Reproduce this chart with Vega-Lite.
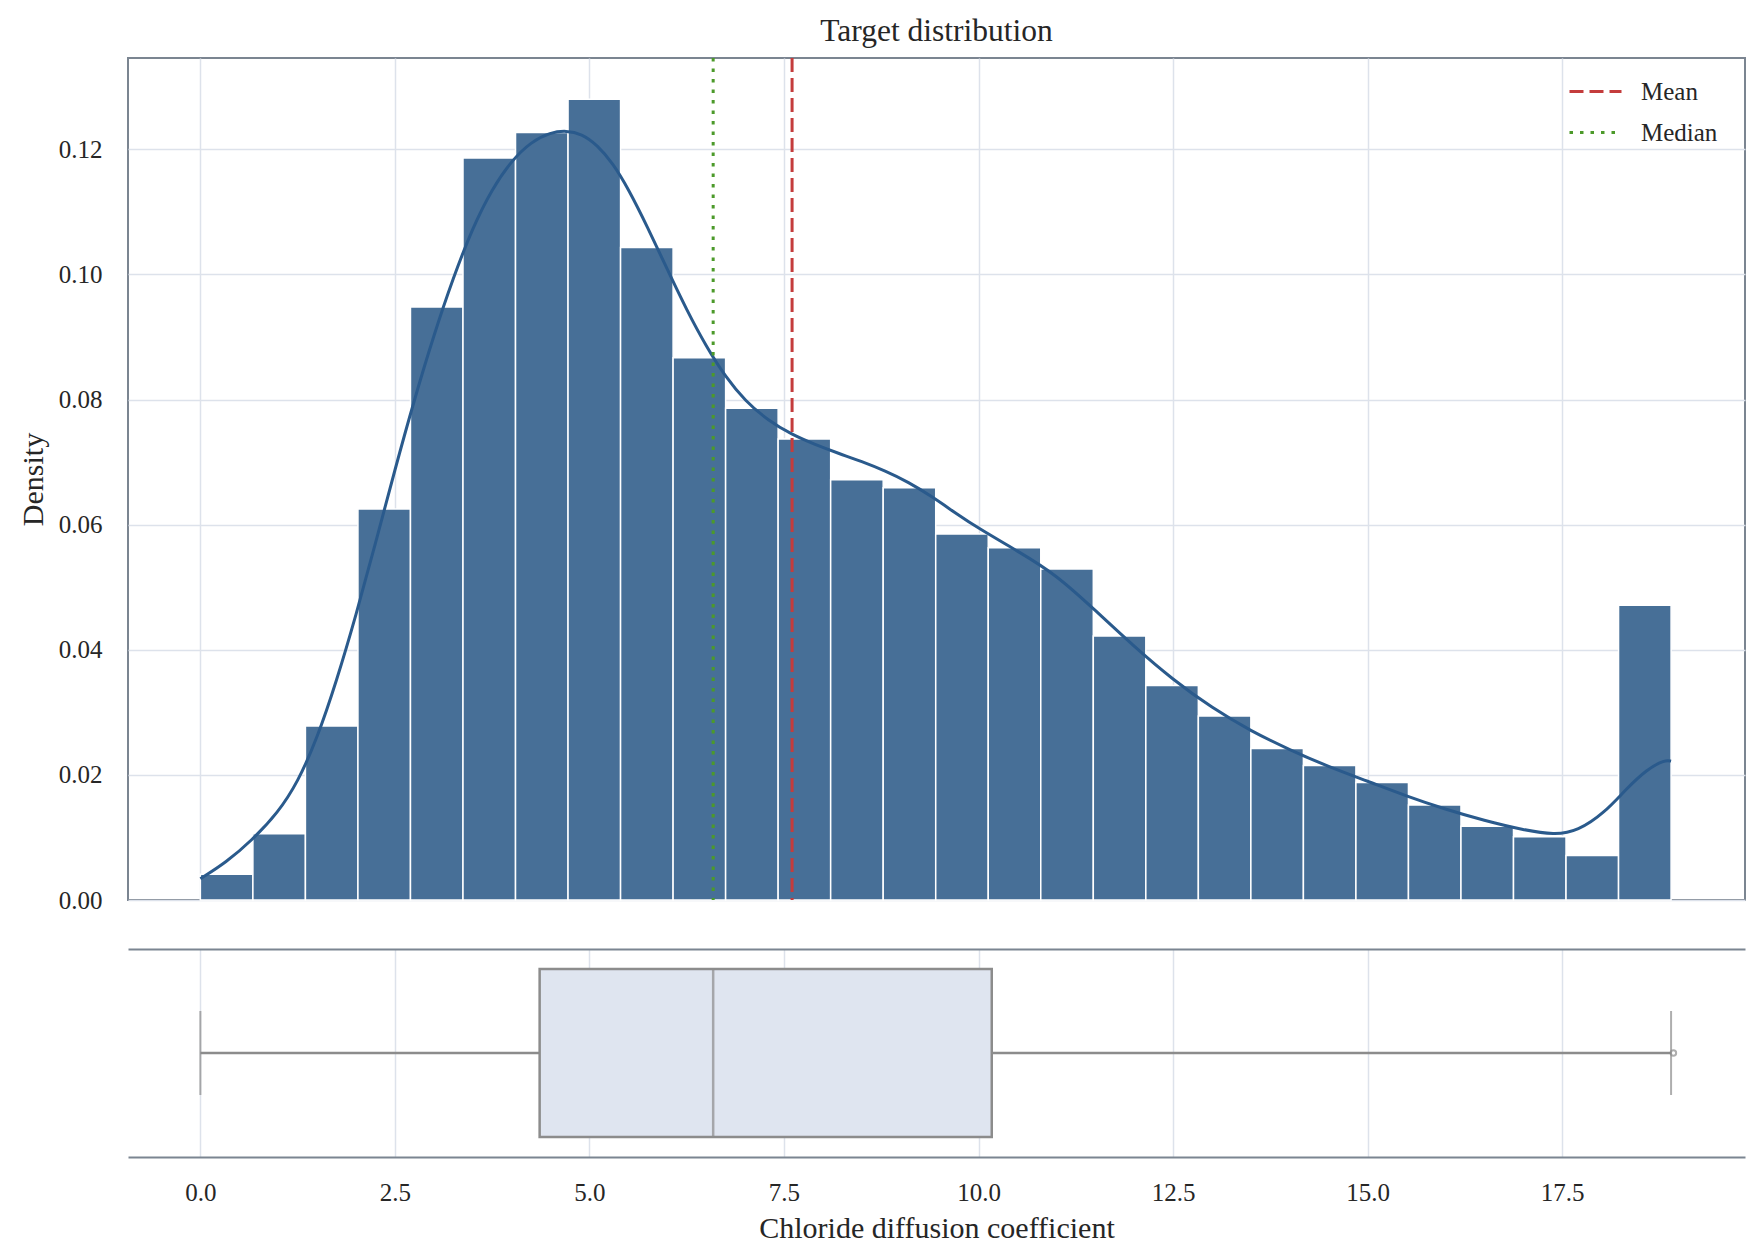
{
  "$schema": "https://vega.github.io/schema/vega-lite/v6.json",
  "padding": {"left": 17, "top": 15, "right": 15, "bottom": 5},
  "background": "white",
  "config": {
    "font": "Liberation Serif",
    "view": {"stroke": "#7b8591", "strokeWidth": 2},
    "axis": {
      "labelFont": "Liberation Serif",
      "titleFont": "Liberation Serif",
      "labelFontSize": 25,
      "titleFontSize": 30,
      "titleFontWeight": "normal",
      "labelColor": "#262626",
      "titleColor": "#262626",
      "gridColor": "#dde2eb",
      "gridWidth": 1.5,
      "ticks": false,
      "tickSize": 0,
      "domain": false
    },
    "legend": {
      "orient": "none",
      "legendX": 1440,
      "legendY": 6,
      "padding": 0,
      "labelFont": "Liberation Serif",
      "labelFontSize": 25,
      "labelColor": "#262626",
      "labelOffset": 18,
      "symbolType": "stroke",
      "symbolSize": 2704,
      "symbolStrokeWidth": 3,
      "rowPadding": -7
    }
  },
  "bounds": "flush",
  "spacing": 49,
  "datasets": {
    "hist": [
      {"bin_start": 0.0, "bin_end": 0.675, "density": 0.0041},
      {"bin_start": 0.675, "bin_end": 1.35, "density": 0.0106},
      {"bin_start": 1.35, "bin_end": 2.025, "density": 0.0278},
      {"bin_start": 2.025, "bin_end": 2.7, "density": 0.0625},
      {"bin_start": 2.7, "bin_end": 3.375, "density": 0.0948},
      {"bin_start": 3.375, "bin_end": 4.05, "density": 0.1186},
      {"bin_start": 4.05, "bin_end": 4.725, "density": 0.1227},
      {"bin_start": 4.725, "bin_end": 5.4, "density": 0.128},
      {"bin_start": 5.4, "bin_end": 6.075, "density": 0.1043},
      {"bin_start": 6.075, "bin_end": 6.75, "density": 0.0867},
      {"bin_start": 6.75, "bin_end": 7.425, "density": 0.0786},
      {"bin_start": 7.425, "bin_end": 8.1, "density": 0.0737},
      {"bin_start": 8.1, "bin_end": 8.775, "density": 0.0672},
      {"bin_start": 8.775, "bin_end": 9.45, "density": 0.0659},
      {"bin_start": 9.45, "bin_end": 10.125, "density": 0.0585},
      {"bin_start": 10.125, "bin_end": 10.8, "density": 0.0563},
      {"bin_start": 10.8, "bin_end": 11.475, "density": 0.0529},
      {"bin_start": 11.475, "bin_end": 12.15, "density": 0.0422},
      {"bin_start": 12.15, "bin_end": 12.825, "density": 0.0343},
      {"bin_start": 12.825, "bin_end": 13.5, "density": 0.0294},
      {"bin_start": 13.5, "bin_end": 14.175, "density": 0.0242},
      {"bin_start": 14.175, "bin_end": 14.85, "density": 0.0215},
      {"bin_start": 14.85, "bin_end": 15.525, "density": 0.0188},
      {"bin_start": 15.525, "bin_end": 16.2, "density": 0.0152},
      {"bin_start": 16.2, "bin_end": 16.875, "density": 0.0118},
      {"bin_start": 16.875, "bin_end": 17.55, "density": 0.0101},
      {"bin_start": 17.55, "bin_end": 18.225, "density": 0.0071},
      {"bin_start": 18.225, "bin_end": 18.9, "density": 0.0471}
    ],
    "kde": [
      {"x": 0.0, "density": 0.0034},
      {"x": 0.33, "density": 0.006},
      {"x": 0.66, "density": 0.0095},
      {"x": 1.0, "density": 0.014},
      {"x": 1.25, "density": 0.0188},
      {"x": 1.5, "density": 0.0258},
      {"x": 1.75, "density": 0.035},
      {"x": 2.0, "density": 0.0455},
      {"x": 2.25, "density": 0.057},
      {"x": 2.5, "density": 0.0688},
      {"x": 2.75, "density": 0.08},
      {"x": 3.0, "density": 0.0903},
      {"x": 3.25, "density": 0.0995},
      {"x": 3.5, "density": 0.1075},
      {"x": 3.75, "density": 0.1137},
      {"x": 4.0, "density": 0.1182},
      {"x": 4.25, "density": 0.1212},
      {"x": 4.5, "density": 0.1227},
      {"x": 4.7, "density": 0.123},
      {"x": 4.9, "density": 0.1225},
      {"x": 5.1, "density": 0.1207},
      {"x": 5.3, "density": 0.1178},
      {"x": 5.5, "density": 0.1137},
      {"x": 5.75, "density": 0.1075},
      {"x": 6.0, "density": 0.1008},
      {"x": 6.25, "density": 0.0943},
      {"x": 6.5, "density": 0.0885},
      {"x": 6.75, "density": 0.0836},
      {"x": 7.0, "density": 0.0798},
      {"x": 7.3, "density": 0.0766},
      {"x": 7.6, "density": 0.0744},
      {"x": 7.9, "density": 0.0728},
      {"x": 8.2, "density": 0.0714},
      {"x": 8.5, "density": 0.0701},
      {"x": 8.8, "density": 0.0686},
      {"x": 9.1, "density": 0.0668},
      {"x": 9.4, "density": 0.0645},
      {"x": 9.7, "density": 0.0619},
      {"x": 10.0, "density": 0.0594},
      {"x": 10.5, "density": 0.0558},
      {"x": 11.0, "density": 0.052},
      {"x": 11.5, "density": 0.0463},
      {"x": 12.0, "density": 0.0405},
      {"x": 12.5, "density": 0.0352},
      {"x": 13.0, "density": 0.0307},
      {"x": 13.5, "density": 0.027},
      {"x": 14.0, "density": 0.024},
      {"x": 14.5, "density": 0.0213},
      {"x": 15.0, "density": 0.019},
      {"x": 15.5, "density": 0.0166},
      {"x": 16.0, "density": 0.0145},
      {"x": 16.5, "density": 0.0127},
      {"x": 17.0, "density": 0.0112},
      {"x": 17.4, "density": 0.0104},
      {"x": 17.7, "density": 0.011},
      {"x": 18.05, "density": 0.014},
      {"x": 18.32, "density": 0.0177},
      {"x": 18.59, "density": 0.0209},
      {"x": 18.82, "density": 0.0224},
      {"x": 18.9, "density": 0.0222}
    ],
    "stats": [
      {"stat": "Mean", "value": 7.604},
      {"stat": "Median", "value": 6.59}
    ],
    "box": [
      {"name": "Chloride", "lower": 0.0, "q1": 4.36, "median": 6.59, "q3": 10.17, "upper": 18.9}
    ],
    "outliers": [
      {"name": "Chloride", "value": 18.93}
    ]
  },
  "vconcat": [
    {
      "title": {
        "text": "Target distribution",
        "anchor": "middle",
        "frame": "group",
        "font": "Liberation Serif",
        "fontSize": 31.5,
        "fontWeight": "normal",
        "color": "#262626",
        "offset": 9
      },
      "width": 1617,
      "height": 842,
      "layer": [
        {
          "data": {"name": "hist"},
          "mark": {"type": "bar", "fill": "#476f97", "stroke": "white", "strokeWidth": 1.5},
          "encoding": {
            "x": {
              "field": "bin_start",
              "type": "quantitative",
              "scale": {"domain": [-0.93, 19.85], "nice": false, "zero": false},
              "axis": {"labels": false, "title": null, "grid": true, "values": [0, 2.5, 5, 7.5, 10, 12.5, 15, 17.5]}
            },
            "x2": {"field": "bin_end"},
            "y": {
              "field": "density",
              "type": "quantitative",
              "scale": {"domain": [0, 0.1346], "nice": false},
              "axis": {
                "title": "Density",
                "grid": true,
                "values": [0, 0.02, 0.04, 0.06, 0.08, 0.1, 0.12],
                "format": ".2f",
                "labelPadding": 26,
                "titlePadding": 10
              }
            },
            "y2": {"datum": 0}
          }
        },
        {
          "data": {"name": "kde"},
          "mark": {"type": "line", "color": "#2a5a8c", "strokeWidth": 3, "interpolate": "basis"},
          "encoding": {
            "x": {"field": "x", "type": "quantitative"},
            "y": {"field": "density", "type": "quantitative"}
          }
        },
        {
          "data": {"name": "stats"},
          "mark": {"type": "rule", "strokeWidth": 3},
          "encoding": {
            "x": {"field": "value", "type": "quantitative"},
            "color": {
              "field": "stat",
              "type": "nominal",
              "scale": {"domain": ["Mean", "Median"], "range": ["#c43c3c", "#4c9a2a"]},
              "legend": {"title": null}
            },
            "strokeDash": {
              "field": "stat",
              "type": "nominal",
              "scale": {"domain": ["Mean", "Median"], "range": [[14, 6], [3.5, 7]]},
              "legend": {"title": null}
            }
          }
        }
      ]
    },
    {
      "width": 1617,
      "height": 208,
      "view": {"stroke": null},
      "layer": [
        {
          "data": {"name": "box"},
          "encoding": {
            "y": {
              "field": "name",
              "type": "nominal",
              "axis": null,
              "scale": {"paddingOuter": 0.119, "paddingInner": 0}
            }
          },
          "layer": [
            {
              "mark": {"type": "rule", "color": "#8c8c8c", "strokeWidth": 2.5},
              "encoding": {
                "x": {
                  "field": "lower",
                  "type": "quantitative",
                  "scale": {"domain": [-0.93, 19.85], "nice": false, "zero": false},
                  "axis": {
                    "orient": "bottom",
                    "grid": true,
                    "domain": true,
                    "domainColor": "#7b8591",
                    "domainWidth": 2,
                    "title": "Chloride diffusion coefficient",
                    "values": [0, 2.5, 5, 7.5, 10, 12.5, 15, 17.5],
                    "format": ".1f",
                    "labelPadding": 23,
                    "titlePadding": 8
                  }
                },
                "x2": {"field": "q1"}
              }
            },
            {
              "mark": {"type": "rule", "color": "#8c8c8c", "strokeWidth": 2.5},
              "encoding": {
                "x": {"field": "q3", "type": "quantitative"},
                "x2": {"field": "upper"}
              }
            },
            {
              "mark": {"type": "bar", "fill": "#dfe5f0", "stroke": "#8c8c8c", "strokeWidth": 2.5},
              "encoding": {
                "x": {"field": "q1", "type": "quantitative"},
                "x2": {"field": "q3"}
              }
            },
            {
              "mark": {"type": "tick", "color": "#8c8c8c", "thickness": 2.5, "size": 168},
              "encoding": {
                "x": {"field": "median", "type": "quantitative"}
              }
            },
            {
              "mark": {"type": "tick", "color": "#8c8c8c", "thickness": 2, "size": 84},
              "encoding": {
                "x": {"field": "lower", "type": "quantitative"}
              }
            },
            {
              "mark": {"type": "tick", "color": "#8c8c8c", "thickness": 2, "size": 84},
              "encoding": {
                "x": {"field": "upper", "type": "quantitative"}
              }
            }
          ]
        },
        {
          "data": {"name": "outliers"},
          "mark": {"type": "point", "shape": "circle", "size": 30, "color": "#8c8c8c", "filled": false, "strokeWidth": 2},
          "encoding": {
            "x": {
              "field": "value",
              "type": "quantitative",
              "axis": {
                "orient": "top",
                "labels": false,
                "grid": false,
                "domain": true,
                "domainColor": "#7b8591",
                "domainWidth": 2,
                "title": null
              }
            },
            "y": {"field": "name", "type": "nominal"}
          }
        }
      ],
      "resolve": {"axis": {"x": "independent"}}
    }
  ]
}
